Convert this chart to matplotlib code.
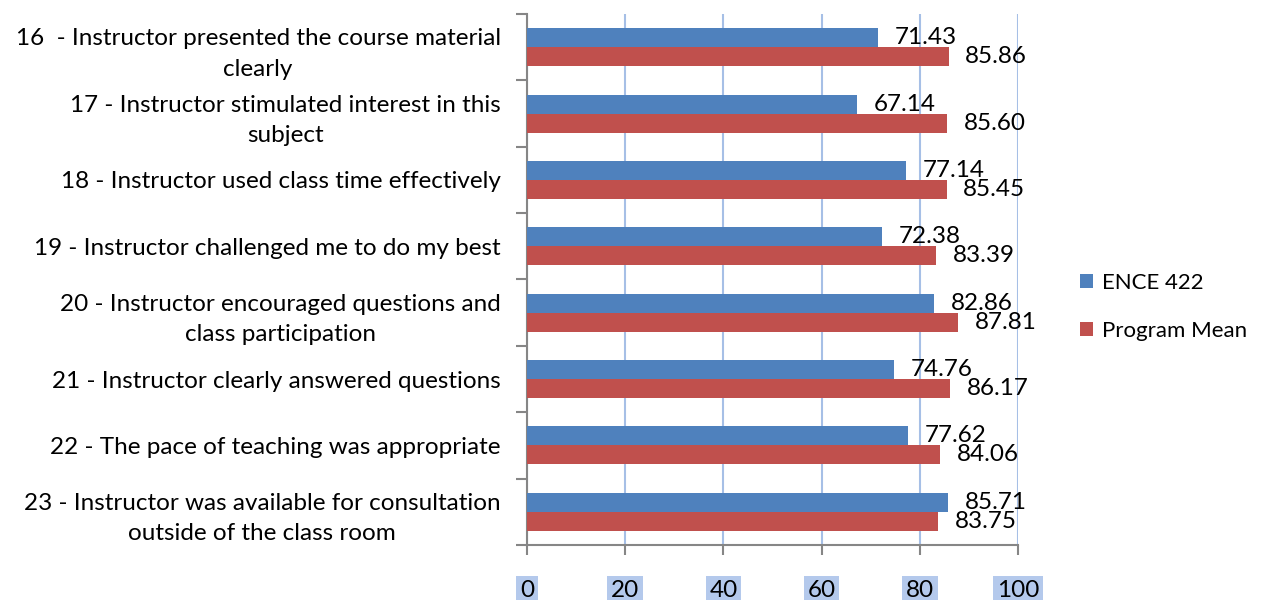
import numpy as np
import matplotlib.pyplot as plt

plt.rcParams['font.family'] = ['Lato', 'DejaVu Sans']

categories = [
    "16  - Instructor presented the course material\nclearly",
    "17 - Instructor stimulated interest in this\nsubject",
    "18 - Instructor used class time effectively",
    "19 - Instructor challenged me to do my best",
    "20 - Instructor encouraged questions and\nclass participation",
    "21 - Instructor clearly answered questions",
    "22 - The pace of teaching was appropriate",
    "23 - Instructor was available for consultation\noutside of the class room",
]
ence_422 = [71.43, 67.14, 77.14, 72.38, 82.86, 74.76, 77.62, 85.71]
program_mean = [85.86, 85.60, 85.45, 83.39, 87.81, 86.17, 84.06, 83.75]
x_ticks = [0, 20, 40, 60, 80, 100]

blue = '#4f81bd'
red = '#c0504d'
grid_col = '#a6bfe6'
axis_col = '#868686'
fs = 17.5

fig = plt.figure(figsize=(12.66, 6), dpi=100)
ax = fig.add_axes([0.4163, 0.0917, 0.3878, 0.885])

y = np.arange(len(categories))
h = 0.286
b1 = ax.barh(y - h / 2, ence_422, height=h, color=blue, label='ENCE 422', zorder=3)
b2 = ax.barh(y + h / 2, program_mean, height=h, color=red, label='Program Mean', zorder=3)

for bars, vals in ((b1, ence_422), (b2, program_mean)):
    for bar, v in zip(bars, vals):
        ax.annotate(f'{v:.2f}', xy=(v, bar.get_y() + bar.get_height() / 2),
                    xytext=(12, 0), textcoords='offset points',
                    ha='left', va='center', fontsize=fs, color='black', zorder=5)

ax.set_xlim(0, 100)
ax.set_ylim(len(categories) - 0.5, -0.5)
ax.set_xticks(x_ticks)
ax.set_xticklabels([str(t) for t in x_ticks])
for lab in ax.get_xticklabels():
    lab.set_bbox(dict(facecolor='#b4c9ec', edgecolor='none', pad=1.5))
ax.tick_params(axis='x', direction='out', length=7, color=axis_col, width=1.5,
               labelsize=fs, pad=18)

# category separators on the y axis
ax.set_yticks(np.arange(len(categories) + 1) - 0.5, minor=False)
ax.set_yticklabels([])
ax.tick_params(axis='y', direction='out', length=8, color=axis_col, width=1.5)
ax.set_yticks(y, minor=True)
ax.set_yticklabels(categories, minor=True, fontsize=fs, ha='right',
                   multialignment='center', linespacing=1.55)
ax.tick_params(axis='y', which='minor', length=0, pad=19)

ax.grid(axis='x', color=grid_col, linewidth=1.5, zorder=0)
for s in ('top', 'right'):
    ax.spines[s].set_visible(False)
for s in ('left', 'bottom'):
    ax.spines[s].set_color(axis_col)
    ax.spines[s].set_linewidth(1.5)

ax.legend(loc='center left', bbox_to_anchor=(1.085, 0.448), frameon=False,
          fontsize=16, handlelength=0.6, handleheight=0.6, handletextpad=0.4,
          labelspacing=1.25)

fig.savefig('out.png', dpi=100)
